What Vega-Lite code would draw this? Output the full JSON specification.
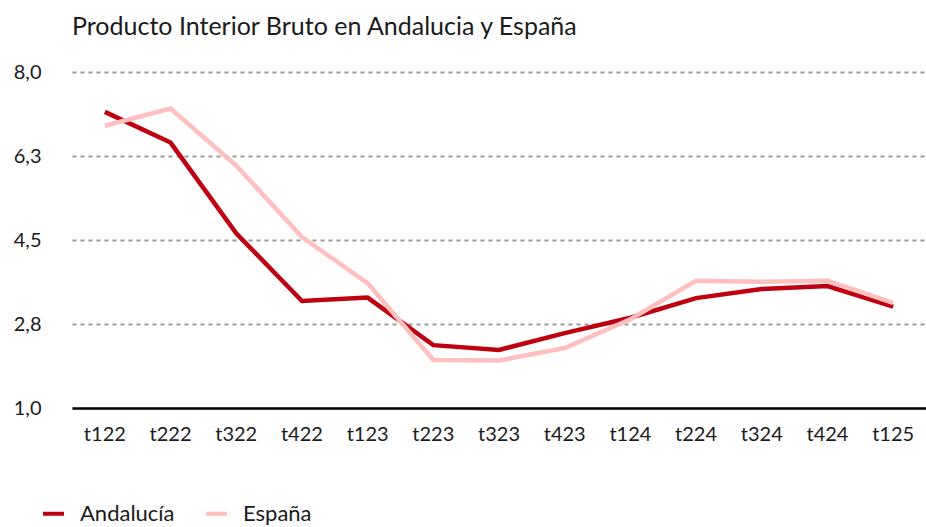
{
  "$schema": "https://vega.github.io/schema/vega-lite/v6.json",
  "autosize": {"type": "none"},
  "width": 854,
  "height": 336,
  "padding": {"left": 72, "top": 72, "right": 0, "bottom": 119},
  "background": "white",
  "title": {
    "text": "Producto Interior Bruto en Andalucia y España",
    "anchor": "start",
    "frame": "group",
    "font": "Lato",
    "fontSize": 25,
    "fontWeight": "normal",
    "color": "#1a1a1a",
    "offset": 22,
    "dx": 0
  },
  "data": {
    "values": [
      {"t": "t122", "s": "Andalucía", "v": 7.17},
      {"t": "t222", "s": "Andalucía", "v": 6.53},
      {"t": "t322", "s": "Andalucía", "v": 4.64},
      {"t": "t422", "s": "Andalucía", "v": 3.23},
      {"t": "t123", "s": "Andalucía", "v": 3.30},
      {"t": "t223", "s": "Andalucía", "v": 2.31},
      {"t": "t323", "s": "Andalucía", "v": 2.21},
      {"t": "t423", "s": "Andalucía", "v": 2.56},
      {"t": "t124", "s": "Andalucía", "v": 2.88},
      {"t": "t224", "s": "Andalucía", "v": 3.29},
      {"t": "t324", "s": "Andalucía", "v": 3.48},
      {"t": "t424", "s": "Andalucía", "v": 3.54},
      {"t": "t125", "s": "Andalucía", "v": 3.11},
      {"t": "t122", "s": "España", "v": 6.88},
      {"t": "t222", "s": "España", "v": 7.24},
      {"t": "t322", "s": "España", "v": 6.05},
      {"t": "t422", "s": "España", "v": 4.56},
      {"t": "t123", "s": "España", "v": 3.60},
      {"t": "t223", "s": "España", "v": 2.00},
      {"t": "t323", "s": "España", "v": 1.99},
      {"t": "t423", "s": "España", "v": 2.25},
      {"t": "t124", "s": "España", "v": 2.85},
      {"t": "t224", "s": "España", "v": 3.65},
      {"t": "t324", "s": "España", "v": 3.63},
      {"t": "t424", "s": "España", "v": 3.65},
      {"t": "t125", "s": "España", "v": 3.19}
    ]
  },
  "mark": {"type": "line", "strokeWidth": 4.5, "strokeJoin": "miter"},
  "encoding": {
    "x": {
      "field": "t",
      "type": "ordinal",
      "sort": null,
      "scale": {"type": "band", "paddingInner": 0, "paddingOuter": 0},
      "axis": {
        "title": null,
        "labelAngle": 0,
        "labelFont": "Lato",
        "labelFontSize": 20,
        "labelColor": "#1a1a1a",
        "labelPadding": 16,
        "ticks": false,
        "domain": true,
        "domainColor": "#000000",
        "domainWidth": 2.5,
        "grid": false
      }
    },
    "y": {
      "field": "v",
      "type": "quantitative",
      "scale": {"domain": [1, 8], "nice": false, "zero": false},
      "axis": {
        "title": null,
        "values": [1, 2.75, 4.5, 6.25, 8],
        "labelExpr": "replace(format(datum.value, '.1f'), '.', ',')",
        "labelFont": "Lato",
        "labelFontSize": 20,
        "labelColor": "#1a1a1a",
        "labelPadding": 31,
        "ticks": false,
        "domain": false,
        "grid": true,
        "gridColor": "#999999",
        "gridWidth": 2,
        "gridDash": [4, 4]
      }
    },
    "color": {
      "field": "s",
      "type": "nominal",
      "scale": {"domain": ["Andalucía", "España"], "range": ["#BE0010", "#FFBFBF"]},
      "legend": {
        "title": null,
        "orient": "none",
        "legendX": -31,
        "legendY": 429,
        "direction": "horizontal",
        "symbolType": "stroke",
        "symbolSize": 440,
        "symbolStrokeWidth": 4,
        "labelFont": "Lato",
        "labelFontSize": 22,
        "labelColor": "#1a1a1a",
        "labelOffset": 14,
        "columnPadding": 23
      }
    }
  },
  "config": {"view": {"stroke": null}}
}
